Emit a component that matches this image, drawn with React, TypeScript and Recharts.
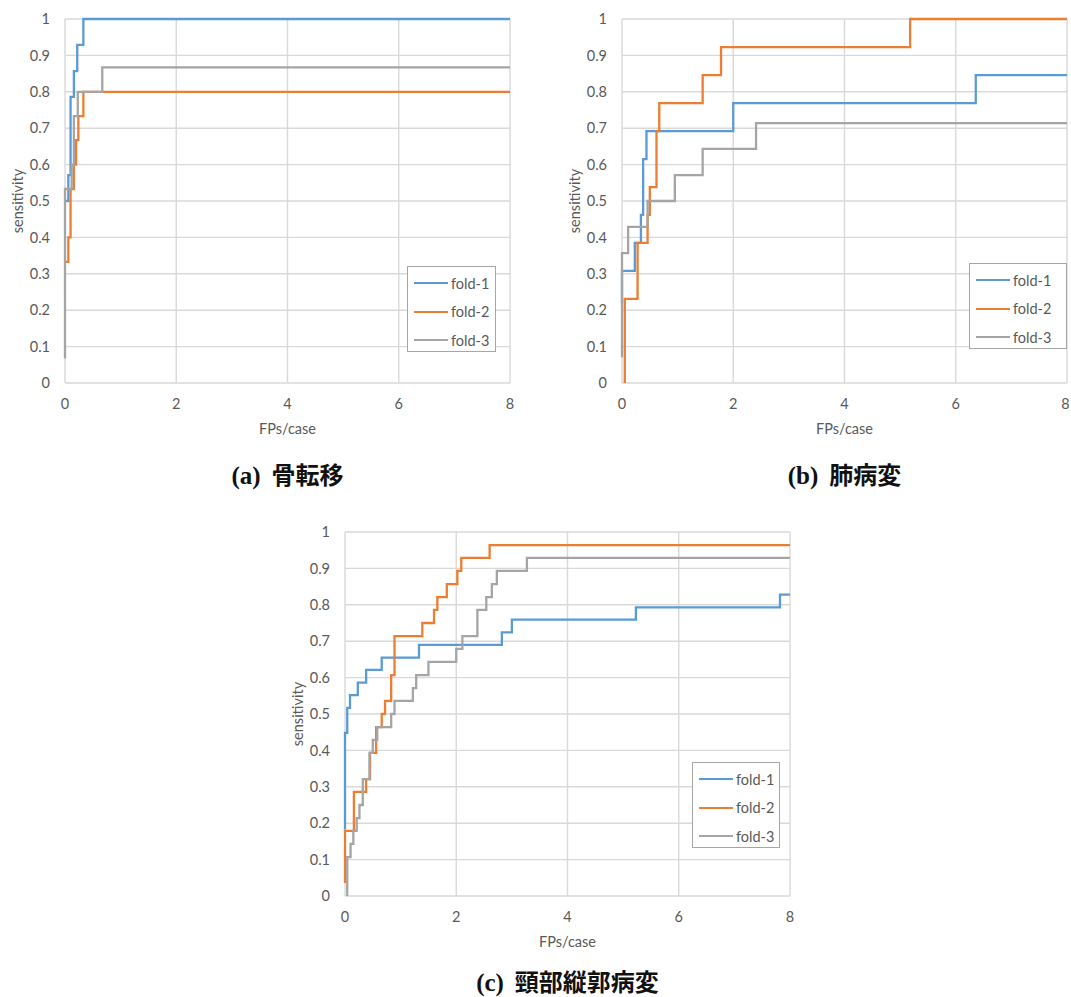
import { CartesianGrid, Legend, Line, LineChart, XAxis, YAxis } from "recharts";

type Pt = [number, number];

const foldNames = ["fold-1", "fold-2", "fold-3"];
const foldColors = ["#5B9BD5", "#ED7D31", "#A5A5A5"];
const xTicks = [0, 2, 4, 6, 8];
const yTicks = [0, 0.1, 0.2, 0.3, 0.4, 0.5, 0.6, 0.7, 0.8, 0.9, 1];

// (a) 骨転移 — [FPs/case, sensitivity] at each step
const boneFold1: Pt[] = [[0, 0.5], [0.06, 0.571], [0.1, 0.786], [0.16, 0.857], [0.22, 0.929], [0.33, 1], [8, 1]];
const boneFold2: Pt[] = [[0, 0.333], [0.06, 0.4], [0.1, 0.533], [0.16, 0.6], [0.2, 0.667], [0.24, 0.733], [0.33, 0.8], [8, 0.8]];
const boneFold3: Pt[] = [[0, 0.067], [0, 0.533], [0.12, 0.6], [0.16, 0.733], [0.23, 0.8], [0.67, 0.867], [8, 0.867]];

// (b) 肺病変
const lungFold1: Pt[] = [[0, 0.22], [0, 0.308], [0.23, 0.385], [0.34, 0.462], [0.38, 0.615], [0.44, 0.692], [2.0, 0.769], [6.36, 0.846], [8, 0.846]];
const lungFold2: Pt[] = [[0.05, 0], [0.05, 0.231], [0.28, 0.385], [0.46, 0.462], [0.5, 0.538], [0.62, 0.692], [0.67, 0.769], [1.45, 0.846], [1.78, 0.923], [5.18, 1], [8, 1]];
const lungFold3: Pt[] = [[0, 0.071], [0, 0.357], [0.11, 0.429], [0.46, 0.5], [0.95, 0.571], [1.45, 0.643], [2.41, 0.714], [8, 0.714]];

// (c) 頸部縦郭病変
const neckFold1: Pt[] = [[0, 0.183], [0, 0.448], [0.04, 0.517], [0.09, 0.552], [0.23, 0.586], [0.38, 0.621], [0.66, 0.655], [1.33, 0.69], [2.82, 0.724], [3.0, 0.759], [5.23, 0.793], [7.82, 0.828], [8, 0.828]];
const neckFold2: Pt[] = [[0, 0.036], [0, 0.179], [0.16, 0.286], [0.38, 0.321], [0.45, 0.393], [0.56, 0.464], [0.66, 0.5], [0.72, 0.536], [0.83, 0.607], [0.89, 0.714], [1.39, 0.75], [1.6, 0.786], [1.66, 0.821], [1.83, 0.857], [2.02, 0.893], [2.09, 0.929], [2.6, 0.964], [8, 0.964]];
const neckFold3: Pt[] = [[0.04, 0], [0.04, 0.107], [0.1, 0.143], [0.15, 0.179], [0.21, 0.214], [0.26, 0.25], [0.32, 0.321], [0.44, 0.393], [0.5, 0.429], [0.58, 0.464], [0.83, 0.5], [0.89, 0.536], [1.22, 0.571], [1.28, 0.607], [1.5, 0.643], [2.0, 0.679], [2.11, 0.714], [2.38, 0.786], [2.54, 0.821], [2.64, 0.857], [2.73, 0.893], [3.27, 0.929], [8, 0.929]];

const FONT = "Lato, 'Open Sans', sans-serif";
const TEXT = "#595959";
const GRID = "#D9D9D9";
const TICK_PX = 14.5;

type LegendBox = { left: number; top: number; width: number; height: number };

type ChartProps = {
  folds: Pt[][];
  tag: string;
  caption: string;
  left: number;
  top: number;
  width: number;
  marginRight: number;
  captionMid: number;
  legend: LegendBox;
};

function FrocChart({ folds, tag, caption, left, top, width, marginRight, captionMid, legend }: ChartProps) {
  const height = 450;
  const plotCenter = left + 65 + (width - marginRight - 65) / 2;

  const renderLegend = (props: any) => (
    <div
      style={{
        width: legend.width,
        height: legend.height,
        boxSizing: "border-box",
        border: "1px solid #A6A6A6",
        background: "#fff",
        padding: "2px 0 0 6px",
        fontFamily: FONT,
        fontSize: 14.5,
        color: TEXT,
      }}
    >
      {(props.payload ?? []).map((e: any) => (
        <div key={e.value} style={{ display: "flex", alignItems: "center", height: 28.5 }}>
          <span style={{ display: "inline-block", width: 34, height: 2.4, background: e.color, marginRight: 3 }} />
          <span>{e.value}</span>
        </div>
      ))}
    </div>
  );

  return (
    <>
      <div style={{ position: "absolute", left, top }}>
        <LineChart
          width={width}
          height={height}
          margin={{ top: 19, right: marginRight, left: 20, bottom: 17 }}
          style={{ fontFamily: FONT }}
        >
          <CartesianGrid stroke={GRID} strokeWidth={1.4} />
          <XAxis
            type="number"
            dataKey="x"
            domain={[0, 8]}
            ticks={xTicks}
            axisLine={false}
            tickLine={false}
            tickSize={0}
            tickMargin={16}
            height={50}
            tick={{ fill: TEXT, fontSize: TICK_PX }}
            label={{
              content: (p: any) => {
                const vb = p.viewBox;
                return (
                  <text x={vb.x + vb.width / 2} y={vb.y + 47} textAnchor="middle" dominantBaseline="middle" fill={TEXT} fontSize={TICK_PX}>
                    FPs/case
                  </text>
                );
              },
            }}
          />
          <YAxis
            type="number"
            domain={[0, 1]}
            ticks={yTicks}
            axisLine={false}
            tickLine={false}
            tickSize={0}
            tickMargin={15}
            width={45}
            tick={{ fill: TEXT, fontSize: TICK_PX }}
            label={{
              content: (p: any) => {
                const vb = p.viewBox;
                const cx = vb.x + vb.width - 46;
                const cy = vb.y + vb.height / 2;
                return (
                  <text x={cx} y={cy} transform={`rotate(-90 ${cx} ${cy})`} textAnchor="middle" dominantBaseline="middle" fill={TEXT} fontSize={TICK_PX}>
                    sensitivity
                  </text>
                );
              },
            }}
          />
          <Legend
            layout="vertical"
            align="center"
            verticalAlign="middle"
            content={renderLegend}
            wrapperStyle={{ left: legend.left - left, top: legend.top - top, width: legend.width, height: legend.height }}
          />
          {folds.map((pts, i) => (
            <Line
              key={foldNames[i]}
              name={foldNames[i]}
              data={pts.map(([x, y]) => ({ x, y }))}
              dataKey="y"
              type="stepAfter"
              stroke={foldColors[i]}
              strokeWidth={2.3}
              dot={false}
              activeDot={false}
              isAnimationActive={false}
            />
          ))}
        </LineChart>
      </div>
      <div
        style={{
          position: "absolute",
          left: plotCenter - 200,
          top: captionMid - 15,
          width: 400,
          textAlign: "center",
          fontSize: 24,
          lineHeight: "30px",
          fontWeight: 700,
          color: "#111",
          whiteSpace: "pre",
        }}
      >
        <span style={{ fontFamily: "'Liberation Serif', serif", fontSize: 25 }}>{tag}</span>
        <span style={{ fontFamily: "'Noto Sans CJK JP', sans-serif" }}>{"  " + caption}</span>
      </div>
    </>
  );
}

export default function App() {
  return (
    <div style={{ position: "absolute", left: 0, top: 0, width: 1071, height: 997, overflow: "hidden", background: "#fff" }}>
      <FrocChart
        folds={[boneFold1, boneFold2, boneFold3]}
        tag="(a)"
        caption="骨転移"
        left={0}
        top={0}
        width={530}
        marginRight={20}
        captionMid={474}
        legend={{ left: 407, top: 266, width: 89, height: 86 }}
      />
      <FrocChart
        folds={[lungFold1, lungFold2, lungFold3]}
        tag="(b)"
        caption="肺病変"
        left={557}
        top={0}
        width={512}
        marginRight={2}
        captionMid={474}
        legend={{ left: 969, top: 263, width: 98, height: 86 }}
      />
      <FrocChart
        folds={[neckFold1, neckFold2, neckFold3]}
        tag="(c)"
        caption="頸部縦郭病変"
        left={280}
        top={513}
        width={530}
        marginRight={20}
        captionMid={981}
        legend={{ left: 692, top: 762, width: 88, height: 86 }}
      />
    </div>
  );
}
